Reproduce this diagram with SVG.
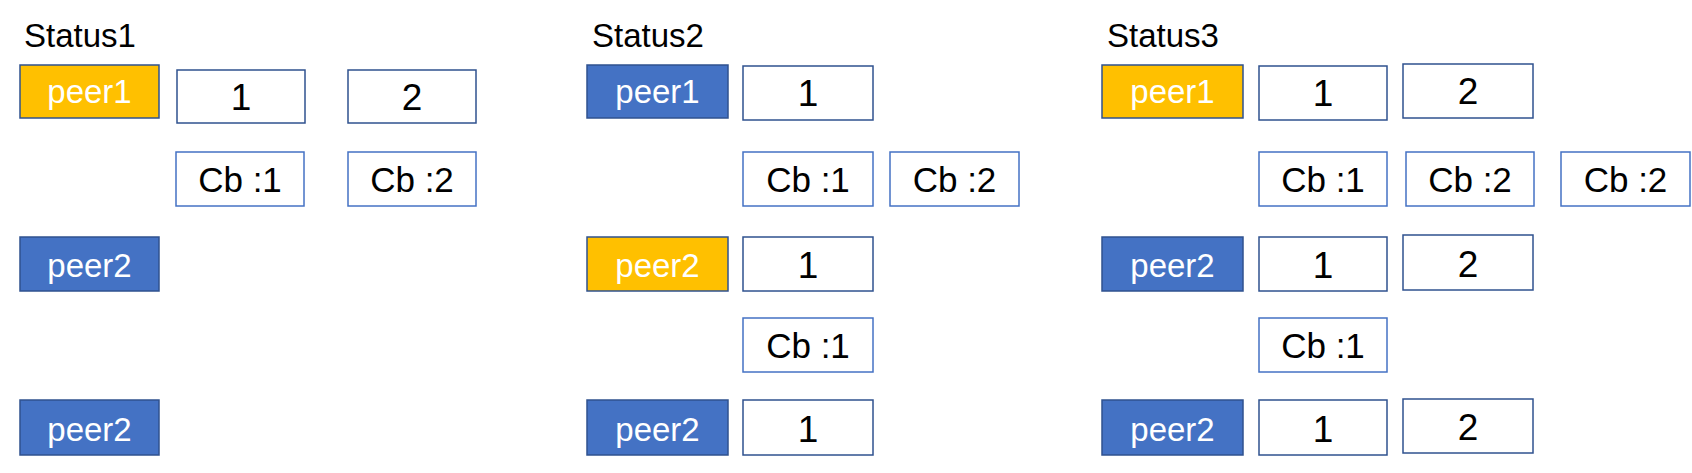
<svg xmlns="http://www.w3.org/2000/svg" width="1692" height="473" viewBox="0 0 1692 473">
<style>
  .bg{fill:#ffffff}
  .peerY{fill:#FFC000;stroke:#2F528F;stroke-width:1.5}
  .peerB{fill:#4472C4;stroke:#2F528F;stroke-width:1.5}
  .num{fill:#ffffff;stroke:#2F528F;stroke-width:1.5}
  .cb{fill:#ffffff;stroke:#4472C4;stroke-width:1.5}
  text{font-family:"Liberation Sans","Noto Sans",Arial,sans-serif;}
  .title{font-size:33px;fill:#000000}
  .pt{font-size:33px;fill:#ffffff;text-anchor:middle}
  .nt{font-size:37px;fill:#000000;text-anchor:middle}
  .ct{font-size:35px;fill:#000000;text-anchor:middle}
</style>
<rect class="bg" x="0" y="0" width="1692" height="473"/>
<g id="connectors"/>

<!-- Status1 -->
<g id="status1">
  <text class="title" x="24" y="47">Status1</text>
  <g id="s1-peer1"><rect class="peerY" x="20" y="65" width="139" height="53"/><text class="pt" x="89.5" y="103">peer1</text></g>
  <g id="s1-n1"><rect class="num" x="177" y="70" width="128" height="53"/><text class="nt" x="241" y="110">1</text></g>
  <g id="s1-n2"><rect class="num" x="348" y="70" width="128" height="53"/><text class="nt" x="412" y="110">2</text></g>
  <g id="s1-cb1"><rect class="cb" x="176" y="152" width="128" height="54"/><text class="ct" x="240" y="192">Cb :1</text></g>
  <g id="s1-cb2"><rect class="cb" x="348" y="152" width="128" height="54"/><text class="ct" x="412" y="192">Cb :2</text></g>
  <g id="s1-peer2a"><rect class="peerB" x="20" y="237" width="139" height="54"/><text class="pt" x="89.5" y="277">peer2</text></g>
  <g id="s1-peer2b"><rect class="peerB" x="20" y="400" width="139" height="55"/><text class="pt" x="89.5" y="441">peer2</text></g>
</g>

<!-- Status2 -->
<g id="status2">
  <text class="title" x="592" y="47">Status2</text>
  <g id="s2-peer1"><rect class="peerB" x="587" y="65" width="141" height="53"/><text class="pt" x="657.5" y="103">peer1</text></g>
  <g id="s2-n1"><rect class="num" x="743" y="66" width="130" height="54"/><text class="nt" x="808" y="106">1</text></g>
  <g id="s2-cb1"><rect class="cb" x="743" y="152" width="130" height="54"/><text class="ct" x="808" y="192">Cb :1</text></g>
  <g id="s2-cb2"><rect class="cb" x="890" y="152" width="129" height="54"/><text class="ct" x="954.5" y="192">Cb :2</text></g>
  <g id="s2-peer2a"><rect class="peerY" x="587" y="237" width="141" height="54"/><text class="pt" x="657.5" y="277">peer2</text></g>
  <g id="s2-n1b"><rect class="num" x="743" y="237" width="130" height="54"/><text class="nt" x="808" y="278">1</text></g>
  <g id="s2-cb1b"><rect class="cb" x="743" y="318" width="130" height="54"/><text class="ct" x="808" y="358">Cb :1</text></g>
  <g id="s2-peer2b"><rect class="peerB" x="587" y="400" width="141" height="55"/><text class="pt" x="657.5" y="441">peer2</text></g>
  <g id="s2-n1c"><rect class="num" x="743" y="400" width="130" height="55"/><text class="nt" x="808" y="442">1</text></g>
</g>

<!-- Status3 -->
<g id="status3">
  <text class="title" x="1107" y="47">Status3</text>
  <g id="s3-peer1"><rect class="peerY" x="1102" y="65" width="141" height="53"/><text class="pt" x="1172.5" y="103">peer1</text></g>
  <g id="s3-n1"><rect class="num" x="1259" y="66" width="128" height="54"/><text class="nt" x="1323" y="106">1</text></g>
  <g id="s3-n2"><rect class="num" x="1403" y="64" width="130" height="54"/><text class="nt" x="1468" y="104">2</text></g>
  <g id="s3-cb1"><rect class="cb" x="1259" y="152" width="128" height="54"/><text class="ct" x="1323" y="192">Cb :1</text></g>
  <g id="s3-cb2"><rect class="cb" x="1406" y="152" width="128" height="54"/><text class="ct" x="1470" y="192">Cb :2</text></g>
  <g id="s3-cb2b"><rect class="cb" x="1561" y="152" width="129" height="54"/><text class="ct" x="1625.5" y="192">Cb :2</text></g>
  <g id="s3-peer2a"><rect class="peerB" x="1102" y="237" width="141" height="54"/><text class="pt" x="1172.5" y="277">peer2</text></g>
  <g id="s3-n1b"><rect class="num" x="1259" y="237" width="128" height="54"/><text class="nt" x="1323" y="278">1</text></g>
  <g id="s3-n2b"><rect class="num" x="1403" y="235" width="130" height="55"/><text class="nt" x="1468" y="277">2</text></g>
  <g id="s3-cb1b"><rect class="cb" x="1259" y="318" width="128" height="54"/><text class="ct" x="1323" y="358">Cb :1</text></g>
  <g id="s3-peer2b"><rect class="peerB" x="1102" y="400" width="141" height="55"/><text class="pt" x="1172.5" y="441">peer2</text></g>
  <g id="s3-n1c"><rect class="num" x="1259" y="400" width="128" height="55"/><text class="nt" x="1323" y="442">1</text></g>
  <g id="s3-n2c"><rect class="num" x="1403" y="399" width="130" height="54"/><text class="nt" x="1468" y="440">2</text></g>
</g>
</svg>
